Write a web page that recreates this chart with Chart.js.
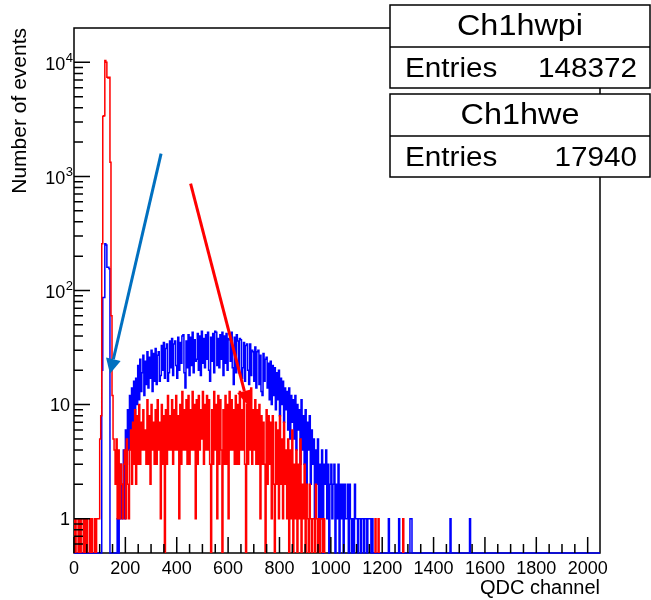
<!DOCTYPE html>
<html>
<head>
<meta charset="utf-8">
<script src="https://cdn.jsdelivr.net/npm/chart.js@4.4.0/dist/chart.umd.min.js"></script>
<style>
  html, body { margin: 0; padding: 0; background: #fff; }
</style>
</head>
<body>
<canvas id="qdc" width="651" height="600"></canvas>
<script>
// QDC spectra, 4 channels per bin, 512 bins over channels 0..2048
var binWidth = 4;
var nChannels = 2048;

// Ch1hwpi (blue)
var countsPi = [
  0,0,0,0,0,0,0,0,0,0,0,0,0,0,0,0,
  0,0,0,0,0,0,0,0,0,0,0,0,20,87,87,257,
  250,160,160,155,0,0,0,0,0,0,0,1,0,1,3,1,
  2,4,1,6,3,9,4,12,5,14,7,16,8,17,10,22,
  11,25,13,19,27,12,24,15,29,14,26,17,30,13,28,16,
  31,15,27,29,16,18,33,20,35,17,31,34,16,19,36,21,
  38,18,34,36,22,17,39,20,35,23,40,41,19,14,36,21,
  41,18,39,22,43,19,37,24,25,42,20,40,18,44,23,38,
  21,41,25,43,20,16,39,24,42,19,44,43,22,38,21,41,
  25,43,18,40,23,42,20,38,37,24,43,21,15,39,19,41,
  36,19,38,37,17,21,35,16,33,34,20,15,34,18,30,29,
  16,32,14,29,30,15,27,13,12,28,16,25,26,14,23,11,
  24,10,22,12,21,9,19,11,20,8,17,10,16,7,14,9,
  13,6,14,5,12,7,11,5,12,4,10,6,9,3,11,4,
  8,3,9,2,7,4,8,2,6,3,5,1,4,2,5,1,
  3,1,4,0,3,2,4,1,3,0,2,3,1,2,3,0,
  2,1,3,0,2,1,2,0,2,1,1,2,0,2,1,0,
  1,0,2,1,1,0,1,1,0,1,1,0,1,1,0,1,
  1,1,0,1,0,0,0,0,0,0,0,0,0,0,0,0,
  0,0,0,1,0,0,0,0,0,0,0,0,0,1,0,0,
  0,0,0,0,0,0,0,0,1,1,0,0,0,0,0,0,
  0,0,0,0,0,0,0,0,0,0,0,0,0,0,0,0,
  0,0,0,0,0,0,0,0,0,0,0,0,0,0,0,1,
  0,0,0,0,0,0,0,0,0,0,0,0,0,0,0,0,
  0,0,1,0,0,0,0,0,0,0,0,0,0,0,0,0,
  0,0,0,0,0,0,0,0,0,0,0,0,0,0,0,0,
  0,0,0,0,0,0,0,0,0,0,0,0,0,0,0,0,
  0,0,0,0,0,0,0,0,0,0,0,0,0,0,0,0,
  0,0,0,0,0,0,0,0,0,0,0,0,0,0,0,0,
  0,0,0,0,0,0,0,0,0,0,0,0,0,0,0,0,
  0,0,0,0,0,0,0,0,0,0,0,0,0,0,0,0,
  0,0,0,0,0,0,0,0,0,0,0,0,0,0,0,0
];

// Ch1hwe (red)
var countsE = [
  0,1,0,1,1,0,1,0,1,1,0,1,0,1,0,0,
  1,0,1,0,0,1,0,1,1,1,5,8,257,3370,3400,10400,
  10000,7400,7300,7400,1330,60,12,5,4,2,5,1,4,1,3,2,
  1,3,4,1,5,2,1,4,6,2,7,3,9,2,8,3,
  10,3,7,4,9,4,6,3,11,3,8,2,10,4,7,3,
  9,3,11,4,7,1,10,3,8,0,9,3,12,4,8,4,
  11,3,9,4,12,4,8,1,10,3,13,4,9,4,11,3,
  12,3,9,4,13,4,10,1,11,3,12,4,9,5,13,3,
  10,4,12,4,11,3,0,9,3,13,4,10,1,12,3,11,
  4,0,9,3,12,3,10,1,13,4,11,4,9,3,12,3,
  10,3,13,4,9,4,11,3,0,10,3,12,4,14,3,9,
  4,11,3,9,3,10,1,8,3,7,3,0,9,2,8,3,
  7,1,8,2,0,7,2,6,1,8,2,5,1,7,2,4,
  1,5,0,4,1,6,0,3,1,4,0,3,1,5,0,2,
  1,3,0,2,1,0,2,1,0,1,1,0,2,1,0,1,
  0,1,1,0,1,0,0,0,0,0,0,0,0,0,0,0,
  0,0,0,0,0,0,0,0,0,0,0,0,0,0,0,0,
  0,0,0,0,0,0,0,0,0,0,0,0,0,0,0,0,
  0,0,0,0,0,0,1,0,0,1,0,0,0,0,0,0,
  0,0,0,0,0,0,0,0,0,0,0,0,0,0,0,0,
  0,1,0,0,0,0,0,0,0,0,0,0,0,0,0,0,
  0,0,0,0,0,0,0,0,0,0,0,0,0,0,0,0,
  0,0,0,0,0,0,0,0,0,0,0,0,0,0,0,0,
  0,0,0,0,0,0,0,0,0,0,0,0,0,0,0,0,
  0,0,0,0,0,0,0,0,0,0,0,0,0,0,0,0,
  0,0,0,0,0,0,0,0,0,0,0,0,0,0,0,0,
  0,0,0,0,0,0,0,0,0,0,0,0,0,0,0,0,
  0,0,0,0,0,0,0,0,0,0,0,0,0,0,0,0,
  0,0,0,0,0,0,0,0,0,0,0,0,0,0,0,0,
  0,0,0,0,0,0,0,0,0,0,0,0,0,0,0,0,
  0,0,0,0,0,0,0,0,0,0,0,0,0,0,0,0,
  0,0,0,0,0,0,0,0,0,0,0,0,0,0,0,0
];

var entriesPi = 148372;
var entriesE = 17940;

var xMajorTicks = [0, 200, 400, 600, 800, 1000, 1200, 1400, 1600, 1800, 2000];
var yDecades = [1, 10, 100, 1000, 10000];
// [mantissa, exponent]
var yDecadeLabels = [['1', ''], ['10', ''], ['10', '2'], ['10', '3'], ['10', '4']];
var yMin = 0.5, yMax = 20000;

// annotation arrows, in (channel, events)
var pointers = [
  { from: [339, 1585], to: [140, 18.6], color: '#0070c0' },
  { from: [454, 863], to: [678, 9.8], color: '#ff0000' }
];

// minor ticks: every 50 channels, and 2..9 inside each decade
var xTickValues = [];
for (var c = 0; c <= 2000; c += 50) xTickValues.push(c);
var yTickValues = [];
[0.1, 1, 10, 100, 1000].forEach(function (d) {
  for (var m = 1; m <= 9; m++) {
    var v = +(m * d).toPrecision(3);
    if (v >= 0.6) yTickValues.push(v);
  }
});
yTickValues.push(10000);

// step points: one per bin low edge, plus the closing edge
function histPoints(counts, zeroLevel) {
  var pts = counts.map(function (n, i) {
    return { x: i * binWidth, y: n > 0 ? n : zeroLevel };
  });
  var last = counts[counts.length - 1];
  pts.push({ x: counts.length * binWidth, y: last > 0 ? last : zeroLevel });
  return pts;
}

var FONT = "'Liberation Sans', Arial, Helvetica, sans-serif";
Chart.defaults.font.family = FONT;
Chart.defaults.color = '#000';

function drawArrow(ctx, x0, y0, x1, y1, color, width, head) {
  var a = Math.atan2(y1 - y0, x1 - x0);
  var bx = x1 - head * Math.cos(a), by = y1 - head * Math.sin(a);
  ctx.strokeStyle = color;
  ctx.lineWidth = width;
  ctx.beginPath();
  ctx.moveTo(x0, y0);
  ctx.lineTo(bx, by);
  ctx.stroke();
  ctx.fillStyle = color;
  ctx.beginPath();
  ctx.moveTo(x1, y1);
  ctx.lineTo(bx + head * 0.5 * Math.sin(a), by - head * 0.5 * Math.cos(a));
  ctx.lineTo(bx - head * 0.5 * Math.sin(a), by + head * 0.5 * Math.cos(a));
  ctx.closePath();
  ctx.fill();
}

function stretchedText(ctx, text, x, y, size, align, sx) {
  ctx.save();
  ctx.font = size + 'px ' + FONT;
  ctx.textAlign = align;
  ctx.textBaseline = 'alphabetic';
  ctx.fillStyle = '#000';
  ctx.translate(x, y);
  ctx.scale(sx, 1);
  ctx.fillText(text, 0, 0);
  ctx.restore();
}

function statBox(ctx, top, name, entries) {
  var left = 390, right = 650, h1 = 42, h2 = 41;
  ctx.fillStyle = '#fff';
  ctx.fillRect(left, top, right - left, h1 + h2);
  ctx.strokeStyle = '#000';
  ctx.lineWidth = 1.5;
  ctx.strokeRect(left, top, right - left, h1 + h2);
  ctx.beginPath();
  ctx.moveTo(left, top + h1);
  ctx.lineTo(right, top + h1);
  ctx.stroke();
  stretchedText(ctx, name, (left + right) / 2, top + 30, 30, 'center', 1.08);
  stretchedText(ctx, 'Entries', 405, top + 72, 27, 'left', 1.1);
  stretchedText(ctx, String(entries), 637, top + 72, 27, 'right', 1.1);
}

var rootFrame = {
  id: 'rootFrame',
  beforeDatasetsDraw: function (chart) {
    var a = chart.chartArea, ctx = chart.ctx;
    ctx.save();
    ctx.strokeStyle = '#000';
    ctx.lineWidth = 1.5;
    ctx.strokeRect(a.left, a.top, a.right - a.left, a.bottom - a.top);
    ctx.restore();
  },
  afterDatasetsDraw: function (chart) {
    var a = chart.chartArea, ctx = chart.ctx;
    var sx = chart.scales.x, sy = chart.scales.y;
    ctx.save();
    ctx.strokeStyle = '#000';
    ctx.lineWidth = 1.5;
    ctx.beginPath();
    sx.ticks.forEach(function (t) {
      var px = sx.getPixelForValue(t.value);
      var len = xMajorTicks.indexOf(t.value) >= 0 ? 16 : 9;
      ctx.moveTo(px, a.bottom);
      ctx.lineTo(px, a.bottom - len);
    });
    sy.ticks.forEach(function (t) {
      var py = sy.getPixelForValue(t.value);
      var len = yDecades.indexOf(t.value) >= 0 ? 16 : 9;
      ctx.moveTo(a.left, py);
      ctx.lineTo(a.left + len, py);
    });
    ctx.stroke();

    // decade labels, with raised exponents
    ctx.fillStyle = '#000';
    ctx.textAlign = 'right';
    ctx.textBaseline = 'middle';
    yDecades.forEach(function (d, i) {
      var py = sy.getPixelForValue(d);
      var base = yDecadeLabels[i][0], exp = yDecadeLabels[i][1];
      if (exp) {
        ctx.font = '13px ' + FONT;
        var ew = ctx.measureText(exp).width;
        ctx.fillText(exp, 73, py - 4);
        ctx.font = '18px ' + FONT;
        ctx.fillText(base, 73 - ew - 0.5, py + 3);
      } else {
        ctx.font = '18px ' + FONT;
        ctx.fillText(base, 70, py + 1);
      }
    });
    ctx.restore();
  },
  afterDraw: function (chart) {
    var ctx = chart.ctx, sx = chart.scales.x, sy = chart.scales.y;
    ctx.save();
    pointers.forEach(function (p) {
      drawArrow(ctx,
        sx.getPixelForValue(p.from[0]), sy.getPixelForValue(p.from[1]),
        sx.getPixelForValue(p.to[0]), sy.getPixelForValue(p.to[1]),
        p.color, 3, 15);
    });
    statBox(ctx, 5, 'Ch1hwpi', entriesPi);
    statBox(ctx, 94, 'Ch1hwe', entriesE);
    ctx.restore();
  }
};

new Chart(document.getElementById('qdc'), {
  type: 'line',
  data: {
    datasets: [
      {
        label: 'Ch1hwe',
        data: histPoints(countsE, 0.3),
        borderColor: '#ff0000',
        borderWidth: 1.5,
        stepped: 'after',
        pointRadius: 0,
        fill: false,
        clip: 0
      },
      {
        label: 'Ch1hwpi',
        data: histPoints(countsPi, yMin),
        borderColor: '#0000ff',
        borderWidth: 1.5,
        stepped: 'after',
        pointRadius: 0,
        fill: false,
        clip: { left: 0, top: 0, right: 0, bottom: 2 }
      }
    ]
  },
  options: {
    responsive: false,
    animation: false,
    layout: { padding: { top: 28, right: 51, left: 0, bottom: 0 } },
    plugins: {
      legend: { display: false },
      tooltip: { enabled: false }
    },
    scales: {
      x: {
        type: 'linear',
        min: 0,
        max: nChannels,
        afterBuildTicks: function (s) {
          s.ticks = xTickValues.map(function (v) { return { value: v }; });
        },
        afterFit: function (s) { s.height = 47; },
        grid: { display: false, drawTicks: false },
        border: { display: false },
        ticks: {
          autoSkip: false,
          maxRotation: 0,
          padding: 5,
          font: { size: 18 },
          callback: function (v) {
            return xMajorTicks.indexOf(v) >= 0 ? String(v) : '';
          }
        },
        title: {
          display: true,
          text: 'QDC channel',
          align: 'end',
          font: { size: 20 },
          padding: { top: 0, bottom: 0 }
        }
      },
      y: {
        type: 'logarithmic',
        min: yMin,
        max: yMax,
        afterBuildTicks: function (s) {
          s.ticks = yTickValues.map(function (v) { return { value: v }; });
        },
        afterFit: function (s) { s.width = 74; },
        grid: { display: false, drawTicks: false },
        border: { display: false },
        ticks: { display: false },
        title: {
          display: true,
          text: 'Number of events',
          align: 'end',
          font: { size: 21 },
          padding: { top: 8, bottom: 0 }
        }
      }
    }
  },
  plugins: [rootFrame]
});
</script>
</body>
</html>
